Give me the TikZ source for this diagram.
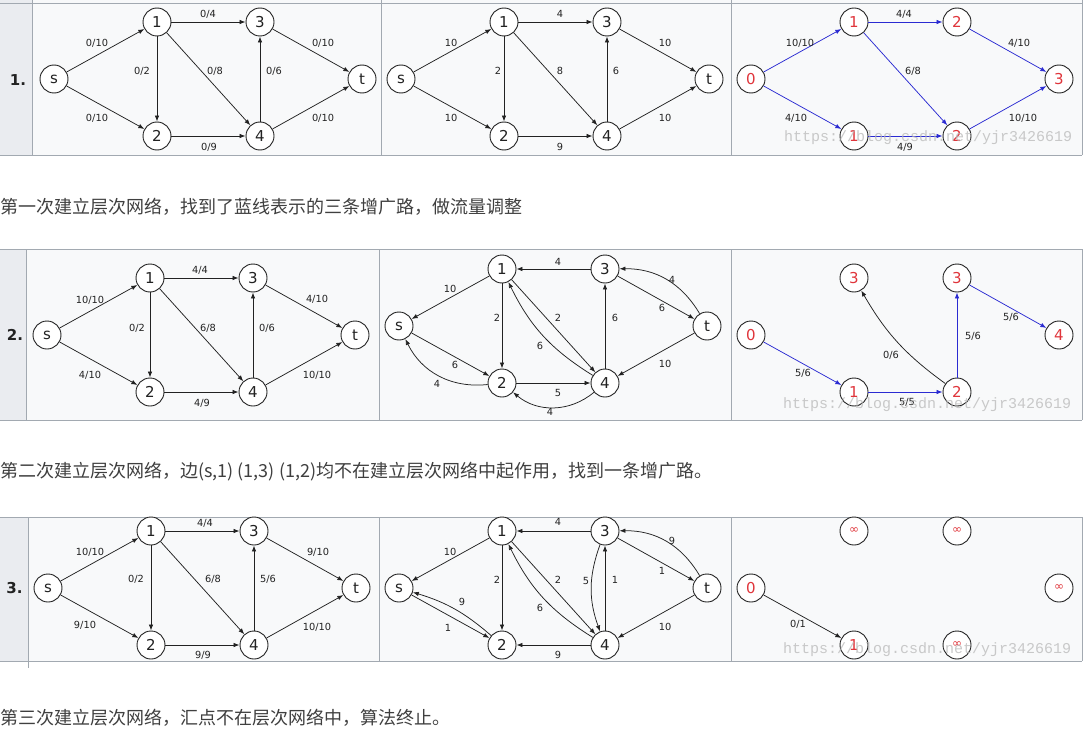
\documentclass[tikz,border=0pt]{standalone}
\usepackage{fontspec}
\setmainfont{DejaVu Sans}
\newfontfamily\cjk{Noto Sans CJK SC}
\newfontfamily\wmfont{Liberation Mono}
\usetikzlibrary{arrows.meta}
\definecolor{ink}{HTML}{222222}
\definecolor{notegray}{HTML}{3F3F3F}
\definecolor{lvlred}{HTML}{E0353B}
\definecolor{augblue}{HTML}{2B2BD2}
\definecolor{rule}{HTML}{A2A9B1}
\definecolor{cellbg}{HTML}{F8F9FA}
\definecolor{headbg}{HTML}{EAECF0}
\definecolor{wmgray}{HTML}{B8B8B8}
\newcommand\netgrid{s/0/0,1/103/-57,2/103/57,3/206/-57,4/206/57,t/308/0}
\newcommand\unreach{{\fontsize{12}{12}\selectfont ∞}}
\tikzset{
  fig/.style={x=1pt,y=-1pt,line join=round,>={Latex[length=6pt,width=4.5pt]}},
  vtx/.style={circle,draw=ink,fill=white,line width=0.9pt,minimum size=28pt,inner sep=0pt,font=\fontsize{15}{15}\selectfont,text=ink},
  lvl/.style={vtx,text=lvlred},
  flow/.style={->,draw=ink,line width=0.75pt},
  aug/.style={flow,draw=augblue},
  wt/.style={font=\fontsize{9.8}{10}\selectfont,text=ink,inner sep=0pt},
  rowno/.style={font=\bfseries\fontsize{15}{15}\selectfont,text=ink},
  note/.style={font=\cjk\fontsize{18}{21}\selectfont,text=notegray,anchor=west,inner sep=0pt},
  wm/.style={font=\wmfont\fontsize{15}{15}\selectfont,text=wmgray,text opacity=0.75,anchor=west,inner sep=0pt},
}
\begin{document}
\begin{tikzpicture}[fig]
  \useasboundingbox (0,0) rectangle (1089,733);
  % tables
  \fill[headbg] (0,0) rectangle (32,155);
  \fill[cellbg] (32,0) rectangle (1082,155);
  \draw[rule] (0,3)--(1082,3) (0,155)--(1082,155) (32,0)--(32,155) (381,0)--(381,155) (731,0)--(731,155) (1082,0)--(1082,155);
  \fill[headbg] (0,249) rectangle (26,420);
  \fill[cellbg] (26,249) rectangle (1082,420);
  \draw[rule] (0,249)--(1082,249) (0,420)--(1082,420) (26,249)--(26,420) (379,249)--(379,420) (731,249)--(731,420) (1082,249)--(1082,420);
  \fill[headbg] (0,517) rectangle (28,661);
  \fill[cellbg] (28,517) rectangle (1082,661);
  \draw[rule] (0,517)--(1082,517) (0,661)--(1082,661) (28,517)--(28,668) (379,517)--(379,661) (731,517)--(731,661) (1082,517)--(1082,661);
  \node[rowno] (n1) at (18,80) {1.};
  \node[rowno] (n2) at (15,335) {2.};
  \node[rowno] (n3) at (14.5,588) {3.};

  % round 1
  \begin{scope}[shift={(54,79)}]
    \foreach \n/\x/\y in \netgrid \node[vtx] (f1-\n) at (\x,\y) {\n};
    \draw[flow] (f1-s) -- (f1-1) node[wt] at (43,-36) {0/10};
    \draw[flow] (f1-s) -- (f1-2) node[wt] at (43,39) {0/10};
    \draw[flow] (f1-1) -- (f1-3) node[wt] at (154,-65) {0/4};
    \draw[flow] (f1-1) -- (f1-2) node[wt] at (88,-8) {0/2};
    \draw[flow] (f1-1) -- (f1-4) node[wt] at (161,-8) {0/8};
    \draw[flow] (f1-4) -- (f1-3) node[wt] at (220,-8) {0/6};
    \draw[flow] (f1-3) -- (f1-t) node[wt] at (269,-36) {0/10};
    \draw[flow] (f1-4) -- (f1-t) node[wt] at (269,39) {0/10};
    \draw[flow] (f1-2) -- (f1-4) node[wt] at (155,68) {0/9};
  \end{scope}
  \begin{scope}[shift={(401,79)}]
    \foreach \n/\x/\y in \netgrid \node[vtx] (g1-\n) at (\x,\y) {\n};
    \draw[flow] (g1-s) -- (g1-1) node[wt] at (50,-36) {10};
    \draw[flow] (g1-s) -- (g1-2) node[wt] at (50,39) {10};
    \draw[flow] (g1-1) -- (g1-3) node[wt] at (159,-65) {4};
    \draw[flow] (g1-1) -- (g1-2) node[wt] at (97,-8) {2};
    \draw[flow] (g1-1) -- (g1-4) node[wt] at (159,-8) {8};
    \draw[flow] (g1-4) -- (g1-3) node[wt] at (215,-8) {6};
    \draw[flow] (g1-3) -- (g1-t) node[wt] at (264,-36) {10};
    \draw[flow] (g1-4) -- (g1-t) node[wt] at (264,39) {10};
    \draw[flow] (g1-2) -- (g1-4) node[wt] at (159,68) {9};
  \end{scope}
  \begin{scope}[shift={(751,79)}]
    \foreach \n/\x/\y/\d in {s/0/0/0,1/103/-57/1,2/103/57/1,3/206/-57/2,4/206/57/2,t/308/0/3}
      \node[lvl] (l1-\n) at (\x,\y) {\d};
    \draw[aug] (l1-s) -- (l1-1) node[wt] at (49,-36) {10/10};
    \draw[aug] (l1-s) -- (l1-2) node[wt] at (45,39) {4/10};
    \draw[aug] (l1-1) -- (l1-3) node[wt] at (153,-65) {4/4};
    \draw[aug] (l1-1) -- (l1-4) node[wt] at (162,-8) {6/8};
    \draw[aug] (l1-3) -- (l1-t) node[wt] at (268,-36) {4/10};
    \draw[aug] (l1-4) -- (l1-t) node[wt] at (272,39) {10/10};
    \draw[aug] (l1-2) -- (l1-4) node[wt] at (154,68) {4/9};
  \end{scope}

  % round 2
  \begin{scope}[shift={(47,335)}]
    \foreach \n/\x/\y in \netgrid \node[vtx] (f2-\n) at (\x,\y) {\n};
    \draw[flow] (f2-s) -- (f2-1) node[wt] at (43,-35) {10/10};
    \draw[flow] (f2-s) -- (f2-2) node[wt] at (43,40) {4/10};
    \draw[flow] (f2-1) -- (f2-3) node[wt] at (153,-65) {4/4};
    \draw[flow] (f2-1) -- (f2-2) node[wt] at (90,-7) {0/2};
    \draw[flow] (f2-1) -- (f2-4) node[wt] at (161,-7) {6/8};
    \draw[flow] (f2-4) -- (f2-3) node[wt] at (220,-7) {0/6};
    \draw[flow] (f2-3) -- (f2-t) node[wt] at (270,-36) {4/10};
    \draw[flow] (f2-4) -- (f2-t) node[wt] at (270,40) {10/10};
    \draw[flow] (f2-2) -- (f2-4) node[wt] at (155,68) {4/9};
  \end{scope}
  \begin{scope}[shift={(399,326)}]
    \foreach \n/\x/\y in \netgrid \node[vtx] (g2-\n) at (\x,\y) {\n};
    \draw[flow] (g2-1) -- (g2-s) node[wt] at (51,-37) {10};
    \draw[flow] (g2-3) -- (g2-1) node[wt] at (159,-64) {4};
    \draw[flow] (g2-1) -- (g2-2) node[wt] at (98,-8) {2};
    \draw[flow] (g2-1) -- (g2-4) node[wt] at (159,-8) {2};
    \draw[flow] (g2-4) to[bend left=16] (g2-1) node[wt] at (141,20) {6};
    \draw[flow] (g2-4) -- (g2-3) node[wt] at (216,-8) {6};
    \draw[flow] (g2-3) -- (g2-t) node[wt] at (263,-18) {6};
    \draw[flow] (g2-t) to[bend right=30] (g2-3) node[wt] at (273,-46) {4};
    \draw[flow] (g2-t) -- (g2-4) node[wt] at (266,38) {10};
    \draw[flow] (g2-s) -- (g2-2) node[wt] at (56,39) {6};
    \draw[flow] (g2-2) to[bend left=35] (g2-s) node[wt] at (38,58) {4};
    \draw[flow] (g2-2) -- (g2-4) node[wt] at (159,67) {5};
    \draw[flow] (g2-4) to[bend left=40] (g2-2) node[wt] at (151,86) {4};
  \end{scope}
  \begin{scope}[shift={(751,335)}]
    \foreach \n/\x/\y/\d in {s/0/0/0,1/103/-57/3,2/103/57/1,3/206/-57/3,4/206/57/2,t/308/0/4}
      \node[lvl] (l2-\n) at (\x,\y) {\d};
    \draw[aug] (l2-s) -- (l2-2) node[wt] at (52,38) {5/6};
    \draw[aug] (l2-2) -- (l2-4) node[wt] at (156,67) {5/5};
    \draw[aug] (l2-4) -- (l2-3) node[wt] at (222,1) {5/6};
    \draw[aug] (l2-3) -- (l2-t) node[wt] at (260,-18) {5/6};
    \draw[flow] (l2-4) to[bend left=12] (l2-1) node[wt] at (140,20) {0/6};
  \end{scope}

  % round 3
  \begin{scope}[shift={(48,588)}]
    \foreach \n/\x/\y in \netgrid \node[vtx] (f3-\n) at (\x,\y) {\n};
    \draw[flow] (f3-s) -- (f3-1) node[wt] at (42,-36) {10/10};
    \draw[flow] (f3-s) -- (f3-2) node[wt] at (37,37) {9/10};
    \draw[flow] (f3-1) -- (f3-3) node[wt] at (157,-65) {4/4};
    \draw[flow] (f3-1) -- (f3-2) node[wt] at (88,-9) {0/2};
    \draw[flow] (f3-1) -- (f3-4) node[wt] at (165,-9) {6/8};
    \draw[flow] (f3-4) -- (f3-3) node[wt] at (220,-9) {5/6};
    \draw[flow] (f3-3) -- (f3-t) node[wt] at (270,-36) {9/10};
    \draw[flow] (f3-4) -- (f3-t) node[wt] at (269,39) {10/10};
    \draw[flow] (f3-2) -- (f3-4) node[wt] at (155,67) {9/9};
  \end{scope}
  \begin{scope}[shift={(399,588)}]
    \foreach \n/\x/\y in \netgrid \node[vtx] (g3-\n) at (\x,\y) {\n};
    \draw[flow] (g3-1) -- (g3-s) node[wt] at (51,-36) {10};
    \draw[flow] (g3-3) -- (g3-1) node[wt] at (159,-66) {4};
    \draw[flow] (g3-1) -- (g3-2) node[wt] at (98,-8) {2};
    \draw[flow] (g3-1) -- (g3-4) node[wt] at (159,-8) {2};
    \draw[flow] (g3-4) to[bend left=16] (g3-1) node[wt] at (141,20) {6};
    \draw[flow] (g3-3) to[bend right=20] (g3-4) node[wt] at (187,-7) {5};
    \draw[flow] (g3-4) -- (g3-3) node[wt] at (216,-8) {1};
    \draw[flow] (g3-3) -- (g3-t) node[wt] at (263,-17) {1};
    \draw[flow] (g3-t) to[bend right=30] (g3-3) node[wt] at (273,-47) {9};
    \draw[flow] (g3-t) -- (g3-4) node[wt] at (266,39) {10};
    \draw[flow] (g3-2) to[bend right=12] (g3-s) node[wt] at (63,14) {9};
    \draw[flow] (g3-s) -- (g3-2) node[wt] at (49,40) {1};
    \draw[flow] (g3-4) -- (g3-2) node[wt] at (159,67) {9};
  \end{scope}
  \begin{scope}[shift={(751,588)}]
    \foreach \n/\x/\y/\d in {s/0/0/0,1/103/-57/\unreach,2/103/57/1,3/206/-57/\unreach,4/206/57/\unreach,t/308/0/\unreach}
      \node[lvl] (l3-\n) at (\x,\y) {\d};
    \draw[flow] (l3-s) -- (l3-2) node[wt] at (47,36) {0/1};
  \end{scope}

  % captions
  \node[note] (c1) at (0,207) {第一次建立层次网络，找到了蓝线表示的三条增广路，做流量调整};
  \node[note] (c2) at (0,472) {第二次建立层次网络，边(s,1) (1,3) (1,2)均不在建立层次网络中起作用，找到一条增广路。};
  \node[note] (c3) at (0,718) {第三次建立层次网络，汇点不在层次网络中，算法终止。};

  % watermarks
  \node[wm] (w1) at (784,138) {https://blog.csdn.net/yjr3426619};
  \node[wm] (w2) at (783,405) {https://blog.csdn.net/yjr3426619};
  \node[wm] (w3) at (783,650) {https://blog.csdn.net/yjr3426619};
\end{tikzpicture}
\end{document}
